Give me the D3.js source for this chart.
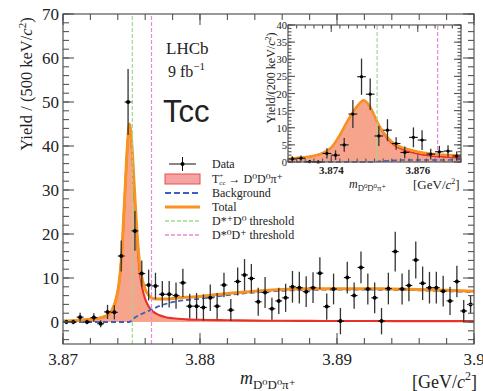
<!DOCTYPE html>
<html><head><meta charset="utf-8">
<script src="https://cdn.jsdelivr.net/npm/d3@7"></script>
<style>
body{margin:0;background:#fff;}
svg{display:block;}
text{font-family:"Liberation Serif","DejaVu Serif",serif;fill:#222;}
</style></head>
<body>
<svg id="c" width="483" height="391"></svg>
<script>
// ---------------- DATA ----------------
const binStart = 3.870, binWidth = 0.0005;
const mainValues = [0,0,1.1,0,1,-0.4,2.3,2.2,15,50,20.7,11,8.4,8.2,6.3,6.3,6.0,8.9,3.6,3.6,
  3.3,5.5,3.6,8.4,2.7,9.2,10.7,9.9,4.6,6.7,3.0,4.8,5.5,8.0,7.8,6.9,7.8,11.1,3.5,7.5,
  0.2,10.1,6.0,12.4,7.5,5.5,0.2,7.6,16.0,7.5,8.3,14.1,8.8,7.8,7.8,7.0,4.8,9.2,2.5,4.0];
const mainErrors = [0.5,0.5,1.0,0.5,1.0,0.8,1.6,1.6,3.5,7.5,4.5,3.0,3.5,3.0,3.0,3.0,3.0,3.2,2.8,3.0,
  3.0,3.0,3.0,2.8,2.5,3.2,3.6,3.3,3.2,3.5,2.5,3.0,3.2,3.6,3.6,3.5,3.5,3.6,3.0,3.5,
  3.0,3.6,3.0,3.6,3.5,3.5,3.0,3.6,4.5,3.5,3.6,4.2,3.8,3.6,3.6,3.5,3.2,3.6,2.5,2.0];
const fitMass = [3.8700,3.8710,3.8720,3.8728,3.8733,3.8736,3.8739,3.8741,3.8743,3.8745,3.8747,3.87485,
  3.8750,3.8752,3.8754,3.8756,3.8758,3.8760,3.8763,3.8766,3.8770,3.8775,3.8780,3.8790,3.8800,
  3.8820,3.8840,3.8860,3.8880,3.8900,3.8920,3.8940,3.8960,3.8980,3.9000];
const fitSignal = [0.2,0.35,0.6,1.0,1.7,2.8,5.5,9,16,28,40,45,41,30,19,11.5,7.5,5.2,3.3,2.3,
  1.6,1.1,0.85,0.6,0.5,0.4,0.32,0.28,0.25,0.23,0.22,0.21,0.2,0.2,0.2];
const fitBackground = [0,0,0,0,0,0,0,0,0,0,0,0,0.3,0.9,1.3,1.6,1.9,2.2,2.6,3.0,
  3.6,4.1,4.5,5.0,5.3,6.1,6.7,7.1,7.3,7.35,7.35,7.3,7.2,7.0,6.8];
const fitTotal = [0.2,0.35,0.6,1.0,1.7,2.8,5.5,9,16,28,40,45,41.3,30.9,20.3,13.1,9.4,7.4,5.9,5.3,
  5.2,5.2,5.35,5.6,5.8,6.5,7.0,7.4,7.55,7.58,7.57,7.5,7.4,7.2,7.0];
const thresholds = [3.87506, 3.87646];

const insetStart = 3.873, insetWidth = 0.0002;
const insetValues = [0.9,1.1,0.1,0,2.5,2.0,5.0,14.0,24.9,19.8,7.6,9.3,5.4,2.8,7.2,6.4,2.3,3.0,3.2,1.75];
const insetErrors = [0.8,0.8,0.5,0.5,1.5,1.4,2.0,4.1,5.3,4.6,2.9,3.2,1.8,1.7,2.9,2.9,1.6,1.7,1.7,1.3];
const insetMass = [3.8730,3.8733,3.8736,3.8738,3.8740,3.8742,3.8744,3.8746,3.87475,3.8749,3.8751,3.8753,
  3.8755,3.8757,3.8760,3.8763,3.8766,3.8770];
const insetTotal = [0.9,1.3,1.8,2.6,4.2,7.9,12.5,16.3,18.0,16.0,10.8,7.2,5.0,4.0,3.0,2.4,2.1,1.9];
const insetSignal = [0.9,1.3,1.8,2.6,4.2,7.9,12.5,16.3,18.0,16.0,10.6,6.8,4.5,3.4,2.4,1.8,1.5,1.2];
const insetBackground = [0,0,0,0,0,0,0,0,0,0,0.2,0.4,0.5,0.6,0.6,0.6,0.6,0.7];

const xMajor = [3.87,3.88,3.89,3.90], xMajorLabels = ["3.87","3.88","3.89","3.9"];
const yMajor = [0,10,20,30,40,50,60,70];
const insetXMajor = [3.874,3.876], insetXLabels = ["3.874","3.876"];
const insetYMajor = [0,5,10,15,20,25,30,35,40];

// ---------------- DRAW ----------------
const svg = d3.select("#c");
const C = {orange:"#f7931e", red:"#e8312a", fill:"#f6a48c", blue:"#3d5fc4", green:"#9bdc8f", pink:"#e58ad6", axis:"#555"};

function panel(g, x, y, o){
  const [x0,x1] = x.range(), [y0,y1] = y.range();
  const mk = (a) => a.map((v,i)=>({m:o.mass[i], v}));
  g.append("path").datum(mk(o.sig)).attr("fill",C.fill).attr("stroke","none")
    .attr("d", d3.area().x(d=>x(d.m)).y0(y(0)).y1(d=>y(d.v)).curve(d3.curveMonotoneX));
  g.append("path").datum(mk(o.sig)).attr("fill","none").attr("stroke",C.red).attr("stroke-width",o.lw*0.7)
    .attr("d", d3.line().x(d=>x(d.m)).y(d=>y(d.v)).curve(d3.curveMonotoneX));
  g.append("path").datum(mk(o.bkg)).attr("fill","none").attr("stroke",C.blue).attr("stroke-width",o.lw*0.6)
    .attr("stroke-dasharray","5,3")
    .attr("d", d3.line().x(d=>x(d.m)).y(d=>y(d.v)).curve(d3.curveMonotoneX));
  g.append("path").datum(mk(o.tot)).attr("fill","none").attr("stroke",C.orange).attr("stroke-width",o.lw)
    .attr("d", d3.line().x(d=>x(d.m)).y(d=>y(d.v)).curve(d3.curveMonotoneX));
  thresholds.forEach((t,k)=>{
    g.append("line").attr("x1",x(t)).attr("x2",x(t)).attr("y1",y0).attr("y2",y1)
      .attr("stroke",k===0?C.green:C.pink).attr("stroke-width",1.2).attr("stroke-dasharray","4,2");
  });
  const pts = o.values.map((v,i)=>({c:o.start+(i+0.5)*o.width, lo:o.start+i*o.width, hi:o.start+(i+1)*o.width, v, e:o.errors[i]}));
  const pg = g.append("g");
  pts.forEach(p=>{
    pg.append("line").attr("x1",x(p.c)).attr("x2",x(p.c)).attr("y1",Math.min(y(p.v-p.e),y0)).attr("y2",y(p.v+p.e))
      .attr("stroke","#333").attr("stroke-width",1.3);
    pg.append("line").attr("x1",x(p.lo)).attr("x2",x(p.hi)).attr("y1",y(p.v)).attr("y2",y(p.v))
      .attr("stroke","#111").attr("stroke-width",1.1);
    pg.append("circle").attr("cx",x(p.c)).attr("cy",y(p.v)).attr("r",o.r).attr("fill","#000");
  });
  g.append("rect").attr("x",x0).attr("y",y1).attr("width",x1-x0).attr("height",y0-y1)
    .attr("fill","none").attr("stroke",C.axis).attr("stroke-width",1.2);
  const tk = (vals, len, axis) => vals.forEach(v=>{
    if(axis==="x"){
      g.append("line").attr("x1",x(v)).attr("x2",x(v)).attr("y1",y0).attr("y2",y0-len).attr("stroke",C.axis).attr("stroke-width",1.1);
      g.append("line").attr("x1",x(v)).attr("x2",x(v)).attr("y1",y1).attr("y2",y1+len).attr("stroke",C.axis).attr("stroke-width",1.1);
    } else {
      g.append("line").attr("x1",x0).attr("x2",x0+len).attr("y1",y(v)).attr("y2",y(v)).attr("stroke",C.axis).attr("stroke-width",1.1);
      g.append("line").attr("x1",x1).attr("x2",x1-len).attr("y1",y(v)).attr("y2",y(v)).attr("stroke",C.axis).attr("stroke-width",1.1);
    }
  });
  tk(o.xMinor,o.minLen,"x"); tk(o.xMajor,o.majLen,"x");
  tk(o.yMinor,o.minLen,"y"); tk(o.yMajor,o.majLen,"y");
}

// Main panel
const x = d3.scaleLinear().domain([3.87,3.90]).range([63,474]);
const y = d3.scaleLinear().domain([-5,70]).range([344,14]);
const gMain = svg.append("g");
panel(gMain, x, y, {values:mainValues, errors:mainErrors, start:binStart, width:binWidth,
  mass:fitMass, sig:fitSignal, bkg:fitBackground, tot:fitTotal, lw:3, r:2,
  xMajor, xMinor:d3.range(3.870,3.9001,0.002), yMajor, yMinor:d3.range(-4,70.1,2), majLen:11, minLen:6});

xMajor.forEach((v,i)=>svg.append("text").attr("x",x(v)).attr("y",365).attr("text-anchor","middle")
  .attr("font-size",17).text(xMajorLabels[i]));
yMajor.forEach(v=>svg.append("text").attr("x",59).attr("y",y(v)+6).attr("text-anchor","end")
  .attr("font-size",17).text(v));

const yt = svg.append("text").attr("transform","translate(32,84) rotate(-90)").attr("text-anchor","middle")
  .attr("font-size",16.5).attr("fill","#444");
yt.text("Yield / (500 keV/");
yt.append("tspan").attr("font-style","italic").text("c");
yt.append("tspan").attr("font-size",11).attr("dy",-6).text("2");
yt.append("tspan").attr("dy",6).text(")");

function massLabel(sel, fs){
  sel.append("tspan").attr("font-style","italic").text("m");
  sel.append("tspan").attr("font-size",fs*0.72).attr("dy",fs*0.25).text("D⁰D⁰π⁺");
}
const xt = svg.append("text").attr("x",240).attr("y",384).attr("font-size",18).attr("fill","#444");
massLabel(xt,18);
const xu = svg.append("text").attr("x",412).attr("y",388).attr("font-size",18).attr("fill","#444");
xu.text("[GeV/"); xu.append("tspan").attr("font-style","italic").text("c");
xu.append("tspan").attr("font-size",12).attr("dy",-8).text("2");
xu.append("tspan").attr("dy",8).text("]");

svg.append("text").attr("x",166).attr("y",54).attr("font-size",17).attr("fill","#444").text("LHCb");
const lum = svg.append("text").attr("x",168).attr("y",77).attr("font-size",16).attr("fill","#444");
lum.text("9 fb"); lum.append("tspan").attr("font-size",11).attr("dy",-7).text("−1");
svg.append("text").attr("x",163).attr("y",122).attr("font-size",31)
  .style("font-family","'Liberation Sans',Arial,sans-serif").attr("fill","#000").text("Tcc");

// Legend
const lg = svg.append("g").attr("font-size",12);
const lx = 165, lw = 35, tx = 212;
const rows = [168,183,197,211,225,239];
lg.append("line").attr("x1",lx+4).attr("x2",lx+lw-4).attr("y1",rows[0]-4).attr("y2",rows[0]-4).attr("stroke","#111");
lg.append("line").attr("x1",lx+lw/2).attr("x2",lx+lw/2).attr("y1",rows[0]-11).attr("y2",rows[0]+3).attr("stroke","#111");
lg.append("circle").attr("cx",lx+lw/2).attr("cy",rows[0]-4).attr("r",2).attr("fill","#000");
lg.append("rect").attr("x",lx).attr("y",rows[1]-9).attr("width",lw).attr("height",10)
  .attr("fill","#f5a3a3").attr("stroke","#e8504a").attr("stroke-width",1);
lg.append("line").attr("x1",lx).attr("x2",lx+lw).attr("y1",rows[2]-4).attr("y2",rows[2]-4)
  .attr("stroke",C.blue).attr("stroke-width",2).attr("stroke-dasharray","6,3");
lg.append("line").attr("x1",lx).attr("x2",lx+lw).attr("y1",rows[3]-4).attr("y2",rows[3]-4)
  .attr("stroke",C.orange).attr("stroke-width",3);
lg.append("line").attr("x1",lx).attr("x2",lx+lw).attr("y1",rows[4]-4).attr("y2",rows[4]-4)
  .attr("stroke",C.green).attr("stroke-width",1.5).attr("stroke-dasharray","4,2");
lg.append("line").attr("x1",lx).attr("x2",lx+lw).attr("y1",rows[5]-4).attr("y2",rows[5]-4)
  .attr("stroke",C.pink).attr("stroke-width",1.5).attr("stroke-dasharray","4,2");
lg.append("text").attr("x",tx).attr("y",rows[0]).attr("fill","#444").text("Data");
const t1 = lg.append("text").attr("x",tx).attr("y",rows[1]).attr("fill","#444");
t1.text("T"); t1.append("tspan").attr("font-size",7).attr("dy",-5).text("+");
t1.append("tspan").attr("font-size",7).attr("dx",-4).attr("dy",7).text("cc");
t1.append("tspan").attr("dy",-2).text(" → D⁰D⁰π⁺");
lg.append("text").attr("x",tx).attr("y",rows[2]).attr("fill","#444").text("Background");
lg.append("text").attr("x",tx).attr("y",rows[3]).attr("fill","#444").text("Total");
lg.append("text").attr("x",tx).attr("y",rows[4]).attr("fill","#444").text("D*⁺D⁰ threshold");
lg.append("text").attr("x",tx).attr("y",rows[5]).attr("fill","#444").text("D*⁰D⁺ threshold");

// Inset
const xi = d3.scaleLinear().domain([3.873,3.877]).range([288,461]);
const yi = d3.scaleLinear().domain([0,40]).range([162,25]);
const gIn = svg.append("g");
panel(gIn, xi, yi, {values:insetValues, errors:insetErrors, start:insetStart, width:insetWidth,
  mass:insetMass, sig:insetSignal, bkg:insetBackground, tot:insetTotal, lw:2.5, r:1.6,
  xMajor:insetXMajor, xMinor:d3.range(3.8730,3.87701,0.0002), yMajor:insetYMajor, yMinor:d3.range(0,40.1,1), majLen:7, minLen:3.5});
insetXMajor.forEach((v,i)=>svg.append("text").attr("x",xi(v)).attr("y",174).attr("text-anchor","middle")
  .attr("font-size",11).attr("font-weight","bold").attr("fill","#444").text(insetXLabels[i]));
insetYMajor.forEach(v=>svg.append("text").attr("x",287).attr("y",yi(v)+4).attr("text-anchor","end")
  .attr("font-size",10.5).attr("fill","#444").text(v));
const iyt = svg.append("text").attr("transform","translate(275,78) rotate(-90)").attr("text-anchor","middle")
  .attr("font-size",12).attr("fill","#555");
iyt.text("Yield/(200 keV/"); iyt.append("tspan").attr("font-style","italic").text("c");
iyt.append("tspan").attr("font-size",8).attr("dy",-4).text("2"); iyt.append("tspan").attr("dy",4).text(")");
const ixt = svg.append("text").attr("x",349).attr("y",188).attr("font-size",12).attr("fill","#555");
massLabel(ixt,12);
const ixu = svg.append("text").attr("x",413).attr("y",189).attr("font-size",13).attr("fill","#555");
ixu.text("[GeV/"); ixu.append("tspan").attr("font-style","italic").text("c");
ixu.append("tspan").attr("font-size",8).attr("dy",-5).text("2"); ixu.append("tspan").attr("dy",5).text("]");
</script>
</body></html>
